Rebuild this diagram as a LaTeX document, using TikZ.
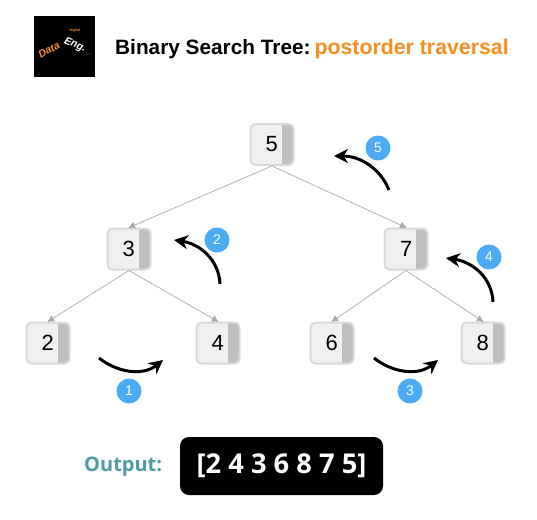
\documentclass[tikz,border=0pt]{standalone}
\usepackage{fontspec}
\setmainfont{Liberation Sans}
\newfontfamily\opensans{Open Sans}
\usetikzlibrary{arrows.meta}
\definecolor{keyfill}{RGB}{240,240,240}
\definecolor{keyline}{RGB}{217,217,217}
\definecolor{keyside}{RGB}{191,191,191}
\definecolor{edgecol}{RGB}{170,170,170}
\definecolor{badgecol}{RGB}{76,171,245}
\definecolor{titleorange}{RGB}{247,143,30}
\definecolor{outteal}{RGB}{78,155,163}
\tikzset{
  x=1pt,y=-1pt,
  keybox/.style={draw=keyline,line width=2pt,fill=keyfill,rounded corners=5pt,
    minimum width=43pt,minimum height=41pt,inner sep=0pt,font=\fontsize{22}{22}\selectfont,
    text=black,
    path picture={\fill[keyside,sharp corners] ([xshift=-12pt]path picture bounding box.north east) rectangle (path picture bounding box.south east);}},
  treeedge/.style={draw=edgecol,line width=0.7pt,-{Latex[length=7pt,width=7pt,fill=edgecol]},shorten >=-1pt},
  travarrow/.style={draw=black,line width=3pt,-{Stealth[length=14pt,width=14pt]}},
  badge/.style={circle,fill=badgecol,text=white,minimum size=25pt,inner sep=0pt,font=\fontsize{14}{14}\selectfont},
}
\begin{document}
\begin{tikzpicture}
\useasboundingbox (0,0) rectangle (537,519);
\fill[white] (0,0) rectangle (537,519);
% logo
\node[fill=black,minimum size=61pt,inner sep=0pt] (logo) at (64.5,46.5) {};
\node[text=titleorange,rotate=30,inner sep=0pt,font=\fontsize{10.5}{11}\selectfont\itshape\bfseries] (logoa) at (49,50) {Data};
\node[text=white,rotate=-22,inner sep=0pt,font=\fontsize{10.5}{11}\selectfont\itshape\bfseries] (logob) at (75,45) {Eng.};
\node[text=titleorange,inner sep=0pt,font=\fontsize{3.5}{4}\selectfont\bfseries] (logoc) at (75,31) {Digital};
\node[text=titleorange,inner sep=0pt,font=\fontsize{9}{9}\selectfont\bfseries] (logod) at (89,54) {\_};
% title
\node[anchor=west,inner sep=0pt,font=\fontsize{20.8}{23}\selectfont\bfseries] (title) at (115,49)
  {Binary Search Tree:\hspace{4pt}\textcolor{titleorange}{\fontsize{21.3}{23}\selectfont postorder traversal}};
% tree nodes
\node[keybox] (n5) at (272,144.5) {\hspace*{-0.5pt}5};
\node[keybox] (n3) at (129,249) {\hspace*{-0.5pt}3};
\node[keybox] (n7) at (406,249) {\hspace*{0.5pt}7};
\node[keybox] (n2) at (48,343) {\hspace*{-0.5pt}2};
\node[keybox] (n4) at (218,343) {\hspace*{-0.5pt}4};
\node[keybox] (n6) at (332,343) {\hspace*{-0.5pt}6};
\node[keybox] (n8) at (483,343) {\hspace*{-0.5pt}8};
% edges
\draw[treeedge] (n5.south) -- (n3.north);
\draw[treeedge] (n5.south) -- (n7.north);
\draw[treeedge] (n3.south) -- (n2.north);
\draw[treeedge] (n3.south) -- (n4.north);
\draw[treeedge] (n7.south) -- (n6.north);
\draw[treeedge] (n7.south) -- (n8.north);
% traversal arrows
\coordinate (a1s) at (99,358); \coordinate (a1e) at (163,360);
\coordinate (a2s) at (220,284); \coordinate (a2e) at (174,240);
\coordinate (a3s) at (374,358); \coordinate (a3e) at (438,360);
\coordinate (a4s) at (493,302); \coordinate (a4e) at (446,258);
\coordinate (a5s) at (389,190); \coordinate (a5e) at (334,156);
\draw[travarrow] (a1s) .. controls (118,373) and (143,376) .. (a1e);
\draw[travarrow] (a3s) .. controls (393,373) and (418,376) .. (a3e);
\draw[travarrow] (a2s) .. controls (219,260) and (200,244) .. (a2e);
\draw[travarrow] (a4s) .. controls (492,278) and (473,262) .. (a4e);
\draw[travarrow] (a5s) .. controls (380,168) and (360,156) .. (a5e);
% badges
\node[badge] (b1) at (129,391) {1};
\node[badge] (b2) at (217,240) {2};
\node[badge] (b3) at (410,391) {3};
\node[badge] (b4) at (489,257) {4};
\node[badge] (b5) at (378,148) {5};
% output
\node[anchor=west,inner sep=0pt,text=outteal,font=\opensans\fontsize{20}{22}\selectfont\bfseries] (outlbl) at (84,467) {Output:};
\node[fill=black,rounded corners=9pt,minimum width=203pt,minimum height=58pt,inner sep=0pt,
  text=white,font=\opensans\fontsize{27.3}{30}\selectfont\bfseries] (outbox) at (281.5,466) {[2 4 3 6 8 7 5]};
\end{tikzpicture}
\end{document}
